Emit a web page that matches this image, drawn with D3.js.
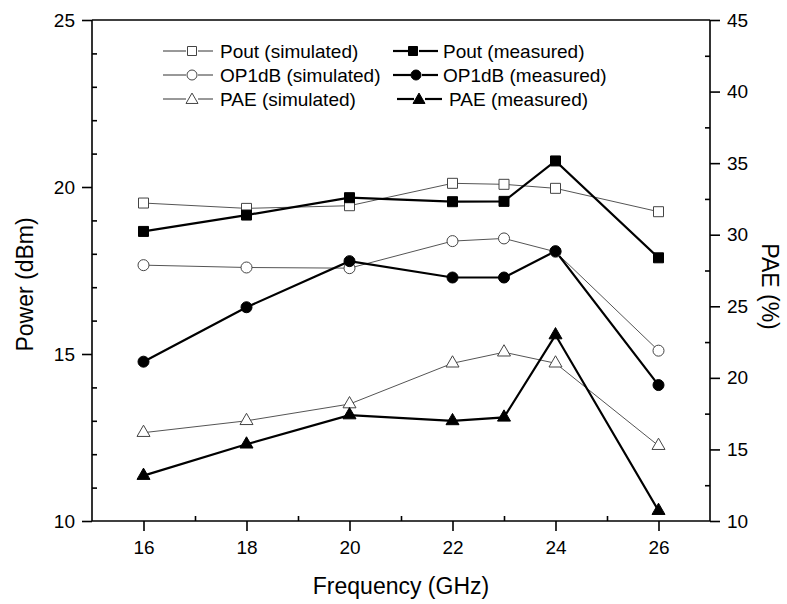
<!DOCTYPE html>
<html>
<head>
<meta charset="utf-8">
<script src="https://cdn.jsdelivr.net/npm/d3@7"></script>
<style>
  html, body { margin: 0; padding: 0; background: #fff; }
  svg { display: block; font-family: Arial, "Liberation Sans", Helvetica, sans-serif; }
</style>
</head>
<body>
<svg id="chart" width="787" height="604"></svg>
<script>
// ---- Data ----
const frequency = [16, 18, 20, 22, 23, 24, 26];
const poutSimulated = [19.52, 19.36, 19.44, 20.11, 20.08, 19.96, 19.26];
const poutMeasured = [18.67, 19.16, 19.68, 19.56, 19.57, 20.78, 17.88];
const op1dbSimulated = [17.66, 17.59, 17.57, 18.38, 18.46, 18.06, 15.10];
const op1dbMeasured = [14.77, 16.40, 17.78, 17.29, 17.29, 18.08, 14.07];
const paeSimulated = [16.17, 17.00, 18.17, 21.02, 21.79, 21.02, 15.26];
const paeMeasured = [13.17, 15.36, 17.40, 16.99, 17.24, 22.99, 10.72];

const xTicks = [16, 18, 20, 22, 24, 26];
const xMinorTicks = [17, 19, 21, 23, 25];
const yLeftTicks = [10, 15, 20, 25];
const yLeftMinor = [11, 12, 13, 14, 16, 17, 18, 19, 21, 22, 23, 24];
const yRightTicks = [10, 15, 20, 25, 30, 35, 40, 45];
const yRightMinor = [12.5, 17.5, 22.5, 27.5, 32.5, 37.5, 42.5];

const legendLabels = [
  "Pout (simulated)", "OP1dB (simulated)", "PAE (simulated)",
  "Pout (measured)", "OP1dB (measured)", "PAE (measured)"
];

// ---- Layout ----
const L = 92, R = 710, T = 20, B = 521;
const svg = d3.select("#chart");

const x = d3.scaleLinear().domain([15, 27]).range([L, R]);
const yL = d3.scaleLinear().domain([10, 25]).range([B, T]);
const yR = d3.scaleLinear().domain([10, 45]).range([B, T]);

const series = [
  { vals: poutSimulated, scale: yL, marker: "square", filled: false },
  { vals: op1dbSimulated, scale: yL, marker: "circle", filled: false },
  { vals: paeSimulated, scale: yR, marker: "triangle", filled: false },
  { vals: poutMeasured, scale: yL, marker: "square", filled: true },
  { vals: op1dbMeasured, scale: yL, marker: "circle", filled: true },
  { vals: paeMeasured, scale: yR, marker: "triangle", filled: true }
];

function markerPath(type, size) {
  if (type === "square") return d3.symbol(d3.symbolSquare, size * size)();
  if (type === "circle") return d3.symbol(d3.symbolCircle, Math.PI * (size / 2) * (size / 2))();
  const s = size;
  const h = s * Math.sqrt(3) / 2;
  return `M0,${-h * 2 / 3}L${s / 2},${h / 3}L${-s / 2},${h / 3}Z`;
}

// ---- Axes ----
const axes = svg.append("g").attr("stroke", "#000").attr("fill", "none");
axes.append("line").attr("x1", L).attr("x2", R).attr("y1", B).attr("y2", B).attr("stroke-width", 1.6);
axes.append("line").attr("x1", L).attr("x2", R).attr("y1", T).attr("y2", T).attr("stroke-width", 1.6);
axes.append("line").attr("x1", L).attr("x2", L).attr("y1", T).attr("y2", B).attr("stroke-width", 1.6);
axes.append("line").attr("x1", R).attr("x2", R).attr("y1", T).attr("y2", B).attr("stroke-width", 1.6);

const gx = svg.append("g").attr("transform", `translate(0,${B})`)
  .call(d3.axisBottom(x).tickValues(xTicks).tickSize(10).tickPadding(10).tickFormat(d3.format("d")));
const gxm = svg.append("g").attr("transform", `translate(0,${B})`)
  .call(d3.axisTop(x).tickValues(xMinorTicks).tickSize(5).tickFormat(""));
const gyl = svg.append("g").attr("transform", `translate(${L},0)`)
  .call(d3.axisLeft(yL).tickValues(yLeftTicks).tickSize(10).tickPadding(7).tickFormat(d3.format("d")));
const gylm = svg.append("g").attr("transform", `translate(${L},0)`)
  .call(d3.axisRight(yL).tickValues(yLeftMinor).tickSize(5).tickFormat(""));
const gyr = svg.append("g").attr("transform", `translate(${R},0)`)
  .call(d3.axisRight(yR).tickValues(yRightTicks).tickSize(10).tickPadding(7).tickFormat(d3.format("d")));
const gyrm = svg.append("g").attr("transform", `translate(${R},0)`)
  .call(d3.axisLeft(yR).tickValues(yRightMinor).tickSize(5).tickFormat(""));

[gx, gxm, gyl, gylm, gyr, gyrm].forEach(g => {
  g.select(".domain").remove();
  g.selectAll(".tick line").attr("stroke", "#000").attr("stroke-width", 1.6);
  g.selectAll(".tick text").attr("fill", "#000").attr("font-size", 19)
    .attr("font-family", "Arial, 'Liberation Sans', sans-serif");
});

// axis titles
svg.append("text").attr("x", (L + R) / 2).attr("y", 594).attr("text-anchor", "middle")
  .attr("font-size", 23).text("Frequency (GHz)");
svg.append("text").attr("transform", `translate(33,${(T + B) / 2 + 14}) rotate(-90)`).attr("text-anchor", "middle")
  .attr("font-size", 23).text("Power (dBm)");
svg.append("text").attr("transform", `translate(762,${(T + B) / 2 + 16}) rotate(90)`).attr("text-anchor", "middle")
  .attr("font-size", 23).text("PAE (%)");

// ---- Series ----
const plot = svg.append("g");
series.forEach(s => {
  const line = d3.line().x((d, i) => x(frequency[i])).y(d => s.scale(d));
  plot.append("path").datum(s.vals).attr("d", line).attr("fill", "none")
    .attr("stroke", s.filled ? "#000" : "#555").attr("stroke-width", s.filled ? 2.2 : 1);
});
series.forEach(s => {
  const size = s.marker === "square" ? 10 : (s.marker === "circle" ? 11 : 13);
  plot.selectAll(null).data(s.vals).enter().append("path")
    .attr("transform", (d, i) => `translate(${x(frequency[i])},${s.scale(d)})`)
    .attr("d", markerPath(s.marker, size))
    .attr("fill", s.filled ? "#000" : "#fff")
    .attr("stroke", s.filled ? "#000" : "#444")
    .attr("stroke-width", 1);
});

// ---- Legend ----
const legend = svg.append("g");
const legendRows = [51, 75, 99];
series.forEach((s, k) => {
  const col = k < 3 ? 0 : 1;
  const row = k % 3;
  const cy = legendRows[row];
  const x0 = col === 0 ? 163 : (row === 2 ? 397 : 393);
  const x1 = col === 0 ? 213 : (row === 2 ? 442 : 438);
  const mx = col === 0 ? 192 : (row === 0 ? 413 : (row === 1 ? 416 : 419));
  const tx = col === 0 ? 220 : (row === 2 ? 449 : 443);
  const g = legend.append("g");
  if (s.filled) {
    g.append("line").attr("x1", x0).attr("x2", mx - 5).attr("y1", cy).attr("y2", cy)
      .attr("stroke", "#000").attr("stroke-width", 2.2);
    g.append("line").attr("x1", mx + 6).attr("x2", x1).attr("y1", cy).attr("y2", cy)
      .attr("stroke", "#000").attr("stroke-width", 2.2);
  } else {
    g.append("line").attr("x1", x0).attr("x2", mx - 6).attr("y1", cy).attr("y2", cy)
      .attr("stroke", "#333").attr("stroke-width", 1);
    g.append("line").attr("x1", mx + 6).attr("x2", x1).attr("y1", cy).attr("y2", cy)
      .attr("stroke", "#333").attr("stroke-width", 1);
  }
  const msize = s.marker === "square" ? 9 : (s.marker === "circle" ? 10 : 12);
  g.append("path").attr("transform", `translate(${mx},${cy + (s.marker === "triangle" ? 1 : 0)})`)
    .attr("d", markerPath(s.marker, msize))
    .attr("fill", s.filled ? "#000" : "#fff")
    .attr("stroke", s.filled ? "#000" : "#444").attr("stroke-width", 1);
  g.append("text").attr("x", tx).attr("y", cy).attr("dy", "0.35em")
    .attr("font-size", 19).attr("fill", "#000").text(legendLabels[k]);
});
</script>
</body>
</html>
